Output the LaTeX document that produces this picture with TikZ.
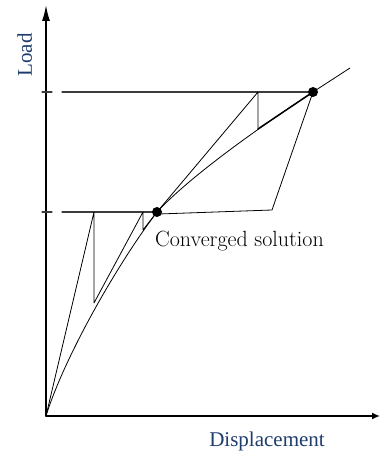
\documentclass[tikz,border=0pt]{standalone}
\usepackage{fontspec}
\usetikzlibrary{arrows.meta}
\newfontfamily\axisfont{Liberation Serif}
\definecolor{axislabel}{RGB}{30,60,110}
\definecolor{levelgray}{RGB}{60,60,60}
\tikzset{
  axis/.style={line width=1.5pt},
  level/.style={line width=1.2pt, levelgray},
  iter/.style={line width=0.8pt},
  path/.style={line width=0.8pt},
  axislab/.style={font=\axisfont\fontsize{21}{24}\selectfont, text=axislabel, inner sep=0pt},
}
\begin{document}
\begin{tikzpicture}[x=1pt,y=1pt,line cap=round,line join=round]
  \useasboundingbox (-46,-36) rectangle (334,416);
  % axes
  \coordinate (O) at (0,0);
  \draw[axis, -{Latex[length=16pt,width=8pt]}] (O) -- (0,411);
  \draw[axis, -{Latex[length=8pt,width=7pt]}] (O) -- (334,0);
  % converged points
  \coordinate (C1) at (111,204);
  \coordinate (C2) at (267,324);
  \coordinate (E) at (304,348);
  % load levels
  \draw[level] (-4,204) -- (6,204);
  \draw[level] (16,204) -- (C1);
  \draw[level] (-4,324) -- (6,324);
  \draw[level] (16,324) -- (C2);
  % equilibrium path
  \draw[path] (O) .. controls (18,58) and (70,150) .. (C1)
    .. controls (150,246) and (235,303) .. (C2) -- (E);
  % first load step
  \draw[iter] (O) -- (48,204) -- (48,113) -- (97,204) -- (97,186) -- (C1);
  % second load step
  \draw[iter] (C1) -- (212,324) -- (212,287);
  \draw[line width=1.5pt] (212,287) -- (C2);
  \draw[iter] (C2) -- (226,206) -- (113,202);
  \fill (C1) circle (5);
  \fill (C2) circle (5);
  % labels
  \node[anchor=base west, inner sep=0pt, font=\fontsize{22}{26}\selectfont] (conv) at (109,169) {Converged solution};
  \node[axislab, anchor=base] (xlab) at (221,-30) {Displacement};
  \node[axislab, anchor=base, rotate=90] (ylab) at (-14,361) {Load};
\end{tikzpicture}
\end{document}
